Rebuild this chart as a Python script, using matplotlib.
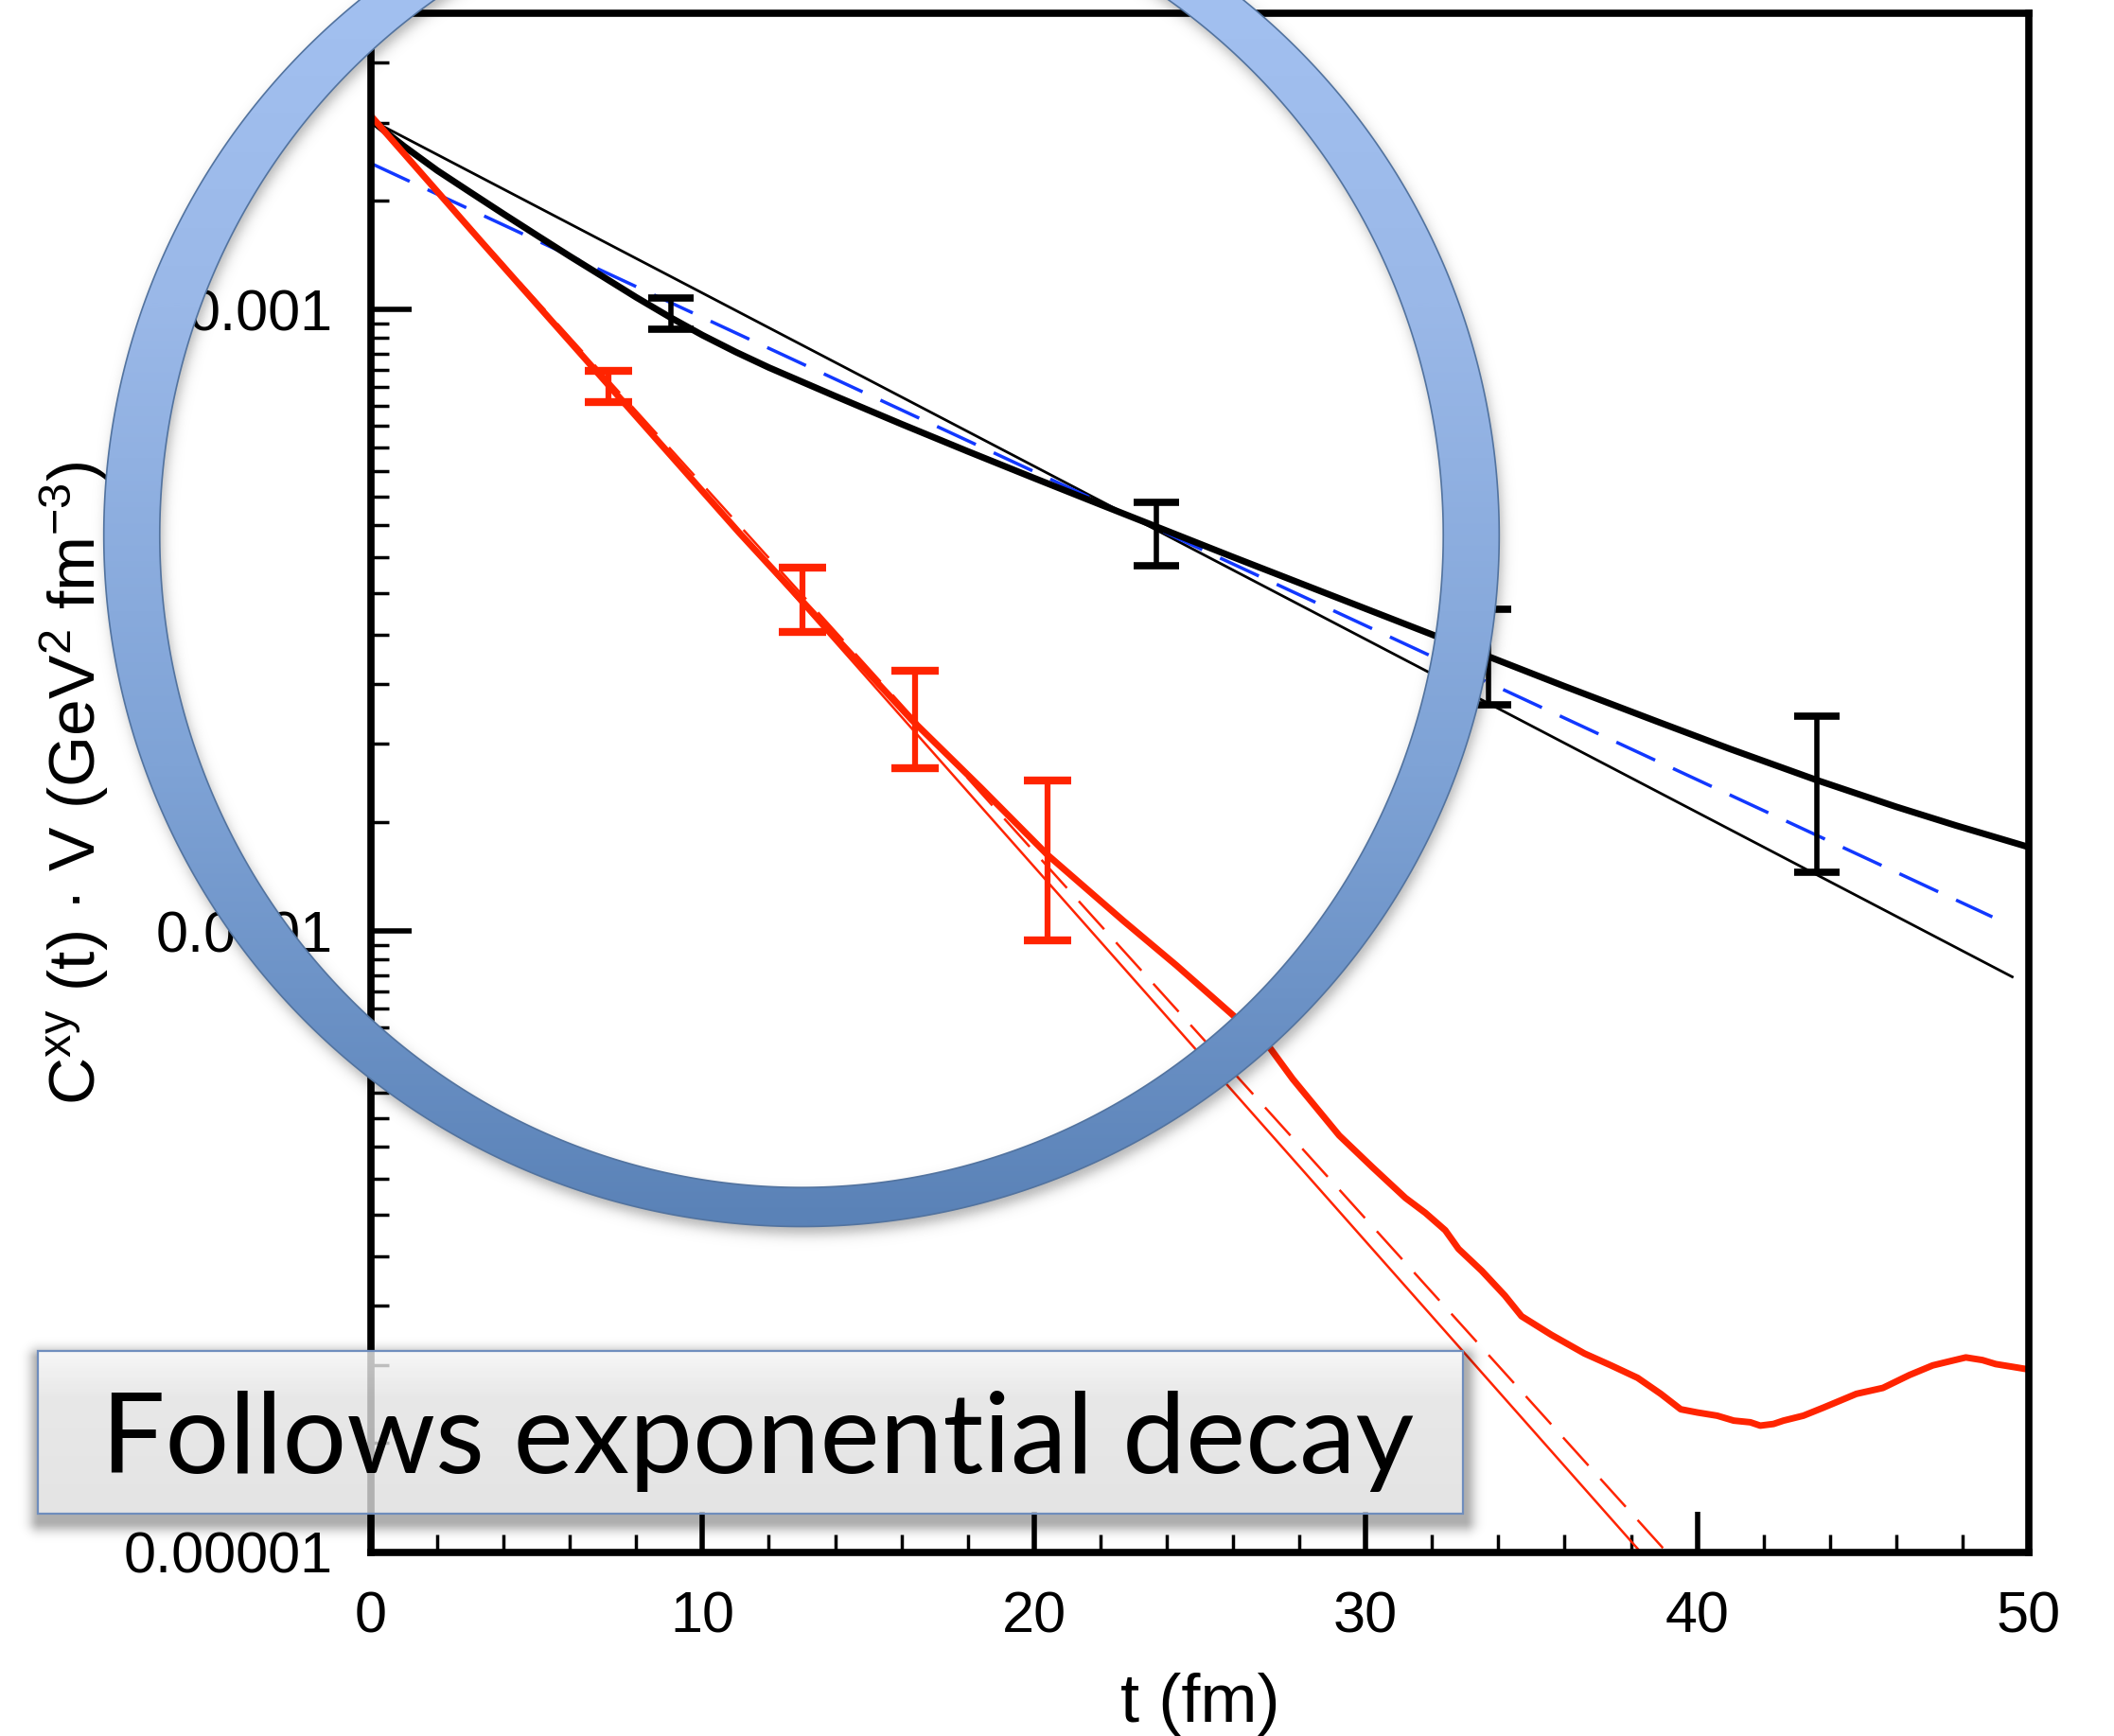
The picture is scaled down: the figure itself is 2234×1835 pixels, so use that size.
import numpy as np
import matplotlib
matplotlib.use("Agg")
import matplotlib.pyplot as plt
from matplotlib.path import Path
from matplotlib.patches import PathPatch, Rectangle
from matplotlib.colors import LinearSegmentedColormap
from matplotlib.ticker import LogLocator, MultipleLocator, FixedLocator, FixedFormatter, NullFormatter

# ---------------- data ----------------
# thick black curve
t_black = [0, 1, 2, 3, 4, 5, 6, 7, 8, 9, 10, 11, 12, 13, 14, 16, 18, 20, 22, 24.2, 26,
           28.5, 31, 33.6, 36, 38.8, 41, 43.6, 46, 47.8, 50]
c_black = [2.018e-3, 1.832e-3, 1.675e-3, 1.545e-3, 1.426e-3, 1.318e-3, 1.219e-3, 1.130e-3,
           1.047e-3, 9.739e-4, 9.099e-4, 8.551e-4, 8.072e-4, 7.656e-4, 7.261e-4, 6.546e-4,
           5.916e-4, 5.358e-4, 4.858e-4, 4.365e-4, 3.999e-4, 3.548e-4, 3.148e-4, 2.780e-4,
           2.477e-4, 2.173e-4, 1.963e-4, 1.750e-4, 1.585e-4, 1.479e-4, 1.365e-4]

# black error bars
t_black_err = [9.05, 23.7, 33.7, 43.6]
lo_black_err = [9.3e-4, 3.87e-4, 2.31e-4, 1.245e-4]
hi_black_err = [1.045e-3, 4.90e-4, 3.29e-4, 2.22e-4]

# thin black exponential fit
t_black_fit = [0, 49.5]
c_black_fit = [2.02e-3, 8.44e-5]

# blue dashed exponential fit
t_blue_fit = [0, 48.9]
c_blue_fit = [1.72e-3, 1.054e-4]

# thick red curve
t_red = [0, 3.4, 7.7, 11.1, 13.0, 14.7, 16.3, 18.4, 20.4, 22.7, 24.3, 25.9, 27.1, 27.8,
         29.2, 30.2, 31.2, 31.8, 32.4, 32.8, 33.5, 34.2, 34.7, 35.6, 36.6, 37.4, 38.2,
         38.9, 39.5, 40.0, 40.6, 41.1, 41.6, 41.9, 42.3, 42.6, 43.2, 43.8, 44.8, 45.6,
         46.4, 47.1, 47.6, 48.1, 48.6, 49.0, 49.5, 50.0]
c_red = [2.051e-3, 1.274e-3, 7.02e-4, 4.38e-4, 3.40e-4, 2.71e-4, 2.19e-4, 1.70e-4,
         1.327e-4, 1.038e-4, 8.80e-5, 7.40e-5, 6.50e-5, 5.78e-5, 4.69e-5, 4.17e-5,
         3.72e-5, 3.52e-5, 3.30e-5, 3.08e-5, 2.84e-5, 2.59e-5, 2.40e-5, 2.24e-5, 2.09e-5,
         2.00e-5, 1.91e-5, 1.80e-5, 1.70e-5, 1.68e-5, 1.66e-5, 1.63e-5, 1.62e-5, 1.60e-5,
         1.61e-5, 1.63e-5, 1.66e-5, 1.71e-5, 1.80e-5, 1.84e-5, 1.93e-5, 2.00e-5, 2.03e-5,
         2.06e-5, 2.04e-5, 2.01e-5, 1.99e-5, 1.97e-5]

# red error bars
t_red_err = [7.15, 13.0, 16.4, 20.4]
lo_red_err = [7.10e-4, 3.03e-4, 1.83e-4, 9.65e-5]
hi_red_err = [7.98e-4, 3.85e-4, 2.62e-4, 1.75e-4]

# red exponential fits
t_red_fit = [0, 40]
c_red_fit = [2.04e-3, 7.9e-6]
t_red_fit_dash = [0, 40]
c_red_fit_dash = [2.04e-3, 8.83e-6]

x_ticks = [0, 10, 20, 30, 40, 50]
x_ticklabels = ["0", "10", "20", "30", "40", "50"]
y_ticks = [1e-5, 1e-4, 1e-3]
y_ticklabels = ["0.00001", "0.0001", "0.001"]

annotation = "Follows exponential decay"

# ---------------- figure ----------------
plt.rcParams['font.family'] = ['Liberation Sans', 'DejaVu Sans']
plt.rcParams['mathtext.fontset'] = 'custom'
plt.rcParams['mathtext.rm'] = 'Liberation Sans'
plt.rcParams['mathtext.it'] = 'Liberation Sans'

W, H, DPI = 2234, 1835, 100
fig = plt.figure(figsize=(W / DPI, H / DPI), dpi=DPI, facecolor='white')
ax = fig.add_axes([392 / W, 1 - 1641 / H, (2144 - 392) / W, (1641 - 14) / H])

RED = '#ff2400'
BLUE = '#1238ff'

ax.plot(t_black_fit, c_black_fit, color='black', lw=2.0)
ax.plot(t_blue_fit, c_blue_fit, color=BLUE, lw=2.5, ls=(0, (13, 6)))
ax.plot(t_black, c_black, color='black', lw=5.0, solid_joinstyle='round')
cb = np.sqrt(np.array(lo_black_err) * np.array(hi_black_err))
ax.errorbar(t_black_err, cb, yerr=[cb - np.array(lo_black_err), np.array(hi_black_err) - cb],
            fmt='none', ecolor='black', elinewidth=4, capsize=17, capthick=5.5)

ax.plot(t_red_fit, c_red_fit, color=RED, lw=1.8)
ax.plot(t_red_fit_dash, c_red_fit_dash, color=RED, lw=1.8, ls=(0, (16, 7.5)))
ax.plot(t_red, c_red, color=RED, lw=5.0, solid_joinstyle='round')
cr = np.sqrt(np.array(lo_red_err) * np.array(hi_red_err))
ax.errorbar(t_red_err, cr, yerr=[cr - np.array(lo_red_err), np.array(hi_red_err) - cr],
            fmt='none', ecolor=RED, elinewidth=4.5, capsize=18, capthick=6)

ax.set_xlim(0, 50)
ax.set_yscale('log')
ax.set_ylim(1e-5, 3e-3)

ax.xaxis.set_major_locator(FixedLocator(x_ticks))
ax.xaxis.set_major_formatter(FixedFormatter(x_ticklabels))
ax.xaxis.set_minor_locator(MultipleLocator(2))
ax.yaxis.set_major_locator(FixedLocator(y_ticks))
ax.yaxis.set_major_formatter(FixedFormatter(y_ticklabels))
ax.yaxis.set_minor_locator(LogLocator(base=10, subs=np.arange(1.5, 10.0, 0.5), numticks=50))
ax.yaxis.set_minor_formatter(NullFormatter())

ax.tick_params(which='both', direction='in', top=False, right=False, color='black')
ax.tick_params(which='major', length=31, width=4, labelsize=44, pad=29)
ax.tick_params(which='minor', length=14, width=2.5)
for s in ax.spines.values():
    s.set_linewidth(5.5)
    s.set_color('black')

ax.set_xlabel('t (fm)', fontsize=52)
ax.xaxis.set_label_coords(0.5, -0.078)
ax.set_ylabel(r'C$^{\mathrm{xy}}$ (t) · V (GeV$^{\mathrm{2}}$ fm$^{\mathrm{-3}}$)', fontsize=50)
ax.yaxis.set_label_coords(-0.157, 0.5)

# ---------------- overlay (ring + text box) ----------------
ov = fig.add_axes([0, 0, 1, 1], zorder=10)
ov.set_xlim(0, W)
ov.set_ylim(H, 0)
ov.axis('off')
ov.patch.set_alpha(0)

cx, cy = 847.0, 565.6
rxo, ryo = 737.3, 730.9
rxi, ryi = 678.2, 689.6

# soft shadows
yy = (np.arange(H, dtype=np.float32) + 0.5)[:, None]
xx = (np.arange(W, dtype=np.float32) + 0.5)[None, :]
sox, soy = 3.0, 8.0
ro = np.sqrt(((xx - cx - sox) / rxo) ** 2 + ((yy - cy - soy) / ryo) ** 2)
ri = np.sqrt(((xx - cx - sox) / rxi) ** 2 + ((yy - cy - soy) / ryi) ** 2)
d_ring = np.maximum((ro - 1) * rxo, (1 - ri) * rxi)
a_ring = 0.30 / (1 + np.exp(np.clip(d_ring, -50, 50) / 4.0))

bx0, bx1, by0, by1 = 40.0, 1546.0, 1428.0, 1600.0
dx = np.maximum(np.maximum(bx0 + 2 - xx, 0), xx - bx1 - 2)
dy = np.maximum(np.maximum(by0 + 8 - yy, 0), yy - by1 - 8)
d_box = np.sqrt(dx ** 2 + dy ** 2)
a_box = 0.32 * np.exp(-(d_box / 11.0) ** 2)
inside = (xx >= bx0) & (xx <= bx1) & (yy >= by0) & (yy <= by1)
a_box = np.where(inside, 0.0, a_box)
shadow = np.maximum(a_ring, a_box)
shcm = LinearSegmentedColormap.from_list('sh', [(0, 0, 0, 0), (0, 0, 0, 1)])
ov.imshow(shadow, cmap=shcm, vmin=0, vmax=1, extent=(0, W, H, 0), interpolation='nearest',
          zorder=1, aspect='auto')

# ring
th = np.linspace(0, 2 * np.pi, 721)
outer = np.column_stack([cx + rxo * np.cos(th), cy + ryo * np.sin(th)])
inner = np.column_stack([cx + rxi * np.cos(th[::-1]), cy + ryi * np.sin(th[::-1])])
n = len(th)
codes = [Path.MOVETO] + [Path.LINETO] * (n - 2) + [Path.CLOSEPOLY]
ring_path = Path(np.vstack([outer, inner]), codes + codes)
ring_patch = PathPatch(ring_path, facecolor='none', edgecolor='#52739f', lw=1.2, zorder=3)
ov.add_patch(ring_patch)
ringcm = LinearSegmentedColormap.from_list('ring', ['#a6c4f4', '#9ab8e8', '#7fa3d6', '#5a82b7'])
grad = np.linspace(0, 1, 600).reshape(-1, 1)
im = ov.imshow(grad, cmap=ringcm, extent=(cx - rxo, cx + rxo, cy + ryo, cy - ryo),
               aspect='auto', zorder=2, interpolation='bilinear')
clip_patch = PathPatch(ring_path, transform=ov.transData, facecolor='none', edgecolor='none')
im.set_clip_path(clip_patch)

# text box
boxcm = LinearSegmentedColormap.from_list('box', [(0, '#f5f5f5'), (0.3, '#e2e2e2'), (1, '#dedede')])
bim = ov.imshow(grad, cmap=boxcm, extent=(bx0, bx1, by1, by0), aspect='auto', zorder=2,
                alpha=0.8, interpolation='bilinear')
ov.add_patch(Rectangle((bx0, by0), bx1 - bx0, by1 - by0, facecolor='none',
                       edgecolor='#6f8dbd', lw=1.6, zorder=3))
ov.text(801, 1557, annotation, fontsize=86, family='Lato', ha='center', va='baseline',
        color='black', zorder=4)

fig.savefig('out.png', dpi=DPI, facecolor='white')
